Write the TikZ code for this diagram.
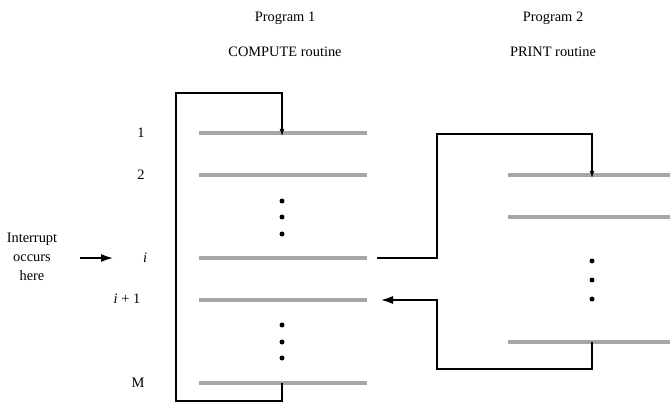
\documentclass[tikz,border=0pt]{standalone}
\usepackage{fontspec}
\setmainfont{Liberation Serif}
\usetikzlibrary{arrows.meta}

\tikzset{
    instr/.style={line width=2.3pt, gray!70},
    wire/.style={line width=1.2pt},
    smalltip/.style={wire, -{Latex[length=6pt,width=3.5pt]}},
    bigtip/.style={wire, -{Latex[length=9pt,width=6pt]}}
}

\begin{document}
\begin{tikzpicture}[x=0.75pt, y=-0.75pt,
        every node/.style={font=\fontsize{10.8}{14.2}\selectfont, inner sep=0pt}]
        \useasboundingbox (0,0) rectangle (670,413);

        % headings
        \node (prog1) at (285,18) {Program 1};
        \node (comp) at (285,52) {COMPUTE routine};
        \node (prog2) at (553,18) {Program 2};
        \node (print) at (553,52) {PRINT routine};

        % program 1 instructions
        \foreach \n/\y in {one/133, two/175, i/258, ii/300, m/383} {
            \coordinate (pa\n) at (199,\y);
            \coordinate (pb\n) at (367,\y);
            \coordinate (pc\n) at (282,\y);
            \draw[instr] (pa\n) -- (pb\n);
        }
        \foreach \y in {201, 217, 234, 325, 342, 358}
            \fill (282,\y) circle(2.5);

        \node (lone) at (141,133) {1};
        \node (ltwo) at (141,175) {2};
        \node (li) at (145,258) {\textit{i}};
        \node (lii) at (127,299) {\textit{i} + 1};
        \node (lm) at (138,383) {M};

        \node[align=center] (intr) at (32,257) {Interrupt\\occurs\\here};
        \coordinate (ia) at (80,258);
        \coordinate (ib) at (113,258);
        \draw[bigtip] (ia) -- (ib);

        % loop of program 1
        \draw[smalltip] (pcm) -- (282,401) -- (176,401) -- (176,93) -- (282,93) -- ([yshift=-3]pcone);

        % program 2 instructions
        \foreach \n/\y in {one/175, two/217, end/342} {
            \coordinate (qa\n) at (508,\y);
            \coordinate (qb\n) at (670,\y);
            \coordinate (qc\n) at (592,\y);
            \draw[instr] (qa\n) -- (qb\n);
        }
        \foreach \y in {261, 280, 299}
            \fill (592,\y) circle(2.5);

        % jump to print routine and back
        \coordinate (out) at (377,258);
        \coordinate (back) at (381,300);
        \draw[smalltip] (out) -- (437,258) -- (437,134) -- (592,134) -- ([yshift=-3]qcone);
        \draw[bigtip] (qcend) -- (592,369) -- (437,369) -- (437,300) -- (back);
    \end{tikzpicture}
\end{document}
